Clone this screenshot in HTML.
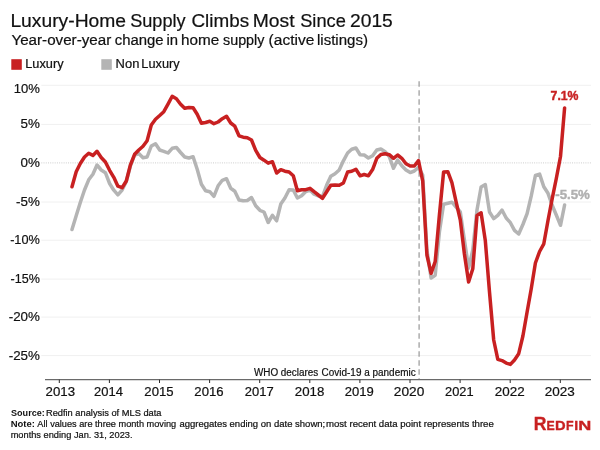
<!DOCTYPE html>
<html><head><meta charset="utf-8"><title>Luxury-Home Supply</title>
<style>
html,body{margin:0;padding:0;background:#fff;}
body{width:600px;height:450px;overflow:hidden;font-family:"Liberation Sans",sans-serif;}
svg{display:block;}
text{font-family:"Liberation Sans",sans-serif;}
</style></head><body>
<svg style="will-change:transform" width="600" height="450" viewBox="0 0 600 450">
<rect width="600" height="450" fill="#ffffff"/>
<text x="10.41" y="27" font-size="18" stroke="#111" stroke-width="0.2" fill="#111" textLength="115.65" lengthAdjust="spacingAndGlyphs">Luxury-Home</text>
<text x="130.18" y="27" font-size="18" stroke="#111" stroke-width="0.2" fill="#111" textLength="55.47" lengthAdjust="spacingAndGlyphs">Supply</text>
<text x="191.46" y="27" font-size="18" stroke="#111" stroke-width="0.2" fill="#111" textLength="57.62" lengthAdjust="spacingAndGlyphs">Climbs</text>
<text x="252.81" y="27" font-size="18" stroke="#111" stroke-width="0.2" fill="#111" textLength="41.83" lengthAdjust="spacingAndGlyphs">Most</text>
<text x="300.18" y="27" font-size="18" stroke="#111" stroke-width="0.2" fill="#111" textLength="45.62" lengthAdjust="spacingAndGlyphs">Since</text>
<text x="350.04" y="27" font-size="18" stroke="#111" stroke-width="0.2" fill="#111" textLength="42.77" lengthAdjust="spacingAndGlyphs">2015</text>
<text x="11.46" y="45" font-size="14" stroke="#111" stroke-width="0.2" fill="#111" textLength="99.77" lengthAdjust="spacingAndGlyphs">Year-over-year</text>
<text x="114.77" y="45" font-size="14" stroke="#111" stroke-width="0.2" fill="#111" textLength="48.88" lengthAdjust="spacingAndGlyphs">change</text>
<text x="166.40" y="45" font-size="14" stroke="#111" stroke-width="0.2" fill="#111" textLength="11.58" lengthAdjust="spacingAndGlyphs">in</text>
<text x="180.93" y="45" font-size="14" stroke="#111" stroke-width="0.2" fill="#111" textLength="38.24" lengthAdjust="spacingAndGlyphs">home</text>
<text x="223.01" y="45" font-size="14" stroke="#111" stroke-width="0.2" fill="#111" textLength="41.44" lengthAdjust="spacingAndGlyphs">supply</text>
<text x="268.63" y="45" font-size="14" stroke="#111" stroke-width="0.2" fill="#111" textLength="45.63" lengthAdjust="spacingAndGlyphs">(active</text>
<text x="316.99" y="45" font-size="14" stroke="#111" stroke-width="0.2" fill="#111" textLength="50.95" lengthAdjust="spacingAndGlyphs">listings)</text>
<rect x="11.3" y="59.2" width="10.5" height="10.6" fill="#c82021"/>
<text x="25.25" y="67.9" font-size="12" stroke="#111" stroke-width="0.2" fill="#111" textLength="38.27" lengthAdjust="spacingAndGlyphs">Luxury</text>
<rect x="101.3" y="59.2" width="10.5" height="10.6" fill="#b4b4b4"/>
<text x="115.63" y="67.9" font-size="12" stroke="#111" stroke-width="0.2" fill="#111" textLength="23.73" lengthAdjust="spacingAndGlyphs">Non</text>
<text x="141.35" y="67.9" font-size="12" stroke="#111" stroke-width="0.2" fill="#111" textLength="38.27" lengthAdjust="spacingAndGlyphs">Luxury</text>
<line x1="41.3" x2="591" y1="85.30" y2="85.30" stroke="#f0f0f0" stroke-width="1"/>
<line x1="41.3" x2="591" y1="124.40" y2="124.40" stroke="#f0f0f0" stroke-width="1"/>
<line x1="41.3" x2="591" y1="202.00" y2="202.00" stroke="#f0f0f0" stroke-width="1"/>
<line x1="41.3" x2="591" y1="240.20" y2="240.20" stroke="#f0f0f0" stroke-width="1"/>
<line x1="41.3" x2="591" y1="279.10" y2="279.10" stroke="#f0f0f0" stroke-width="1"/>
<line x1="41.3" x2="591" y1="317.10" y2="317.10" stroke="#f0f0f0" stroke-width="1"/>
<line x1="41.3" x2="591" y1="355.60" y2="355.60" stroke="#f0f0f0" stroke-width="1"/>
<line x1="41.3" x2="591" y1="162.90" y2="162.90" stroke="#cdcdcd" stroke-width="1" stroke-dasharray="1 1.23"/>
<text x="13.72" y="92.6" font-size="13" stroke="#111" stroke-width="0.2" fill="#111" textLength="26.16" lengthAdjust="spacingAndGlyphs">10%</text>
<text x="20.56" y="128.4" font-size="13" stroke="#111" stroke-width="0.2" fill="#111" textLength="19.34" lengthAdjust="spacingAndGlyphs">5%</text>
<text x="20.56" y="166.9" font-size="13" stroke="#111" stroke-width="0.2" fill="#111" textLength="19.34" lengthAdjust="spacingAndGlyphs">0%</text>
<text x="16.10" y="206.0" font-size="13" stroke="#111" stroke-width="0.2" fill="#111" textLength="23.78" lengthAdjust="spacingAndGlyphs">-5%</text>
<text x="10.13" y="244.2" font-size="13" stroke="#111" stroke-width="0.2" fill="#111" textLength="29.75" lengthAdjust="spacingAndGlyphs">-10%</text>
<text x="10.53" y="283.1" font-size="13" stroke="#111" stroke-width="0.2" fill="#111" textLength="29.33" lengthAdjust="spacingAndGlyphs">-15%</text>
<text x="8.70" y="321.1" font-size="13" stroke="#111" stroke-width="0.2" fill="#111" textLength="31.20" lengthAdjust="spacingAndGlyphs">-20%</text>
<text x="8.70" y="359.6" font-size="13" stroke="#111" stroke-width="0.2" fill="#111" textLength="31.20" lengthAdjust="spacingAndGlyphs">-25%</text>
<line x1="419.1" x2="419.1" y1="81.3" y2="379" stroke="#9c9c9c" stroke-width="1.25" stroke-dasharray="5.5 3.5"/>
<text x="253.95" y="375.8" font-size="10" stroke="#111" stroke-width="0.2" fill="#111" textLength="64.29" lengthAdjust="spacingAndGlyphs">WHO declares</text>
<text x="321.60" y="375.8" font-size="10" stroke="#111" stroke-width="0.2" fill="#111" textLength="94.07" lengthAdjust="spacingAndGlyphs">Covid-19 a pandemic</text>
<path d="M72.0,229.5 L76.2,215.8 L80.3,202.5 L84.5,190.0 L88.7,179.8 L92.9,174.2 L97.0,165.0 L101.2,170.0 L105.4,172.7 L109.6,183.5 L113.8,190.2 L117.9,194.8 L122.1,190.0 L126.3,181.5 L130.4,166.0 L134.6,155.0 L138.8,153.5 L143.0,157.7 L147.1,157.0 L151.3,146.0 L155.5,143.7 L159.7,150.0 L163.8,151.3 L168.0,153.0 L172.2,148.3 L176.4,147.5 L180.6,152.5 L184.7,157.0 L188.9,158.0 L193.1,156.7 L197.2,169.2 L201.4,184.2 L205.6,190.8 L209.8,191.7 L213.9,196.3 L218.1,185.8 L222.3,180.3 L226.5,178.7 L230.7,188.3 L234.8,191.2 L239.0,200.0 L243.2,200.8 L247.3,200.5 L251.5,197.5 L255.7,205.8 L259.9,210.3 L264.0,212.0 L268.2,222.5 L272.4,215.3 L276.6,220.8 L280.8,204.0 L284.9,198.0 L289.1,189.8 L293.3,190.0 L297.4,198.0 L301.6,195.8 L305.8,191.5 L310.0,190.0 L314.1,194.2 L318.3,196.0 L322.5,196.5 L326.7,185.0 L330.8,176.3 L335.0,173.8 L339.2,170.0 L343.4,160.8 L347.6,153.0 L351.7,149.2 L355.9,148.0 L360.1,154.7 L364.2,155.0 L368.4,158.0 L372.6,155.8 L376.8,150.0 L380.9,149.0 L385.1,151.7 L389.3,156.7 L393.5,168.3 L397.6,160.0 L401.8,165.8 L406.0,170.0 L410.2,172.6 L414.3,171.0 L418.5,167.4 L422.7,175.2 L426.9,250.0 L431.1,278.0 L435.2,275.2 L439.4,232.0 L443.6,204.2 L447.8,203.2 L451.9,202.2 L456.1,207.0 L460.3,212.0 L464.4,240.0 L468.6,268.0 L472.8,250.0 L477.0,210.0 L481.1,187.0 L485.3,184.6 L489.5,212.0 L493.7,218.6 L497.8,215.3 L502.0,210.0 L506.2,218.0 L510.4,222.7 L514.5,230.4 L518.7,234.0 L522.9,224.5 L527.1,213.6 L531.2,196.2 L535.4,175.5 L539.6,174.1 L543.8,186.7 L548.0,193.3 L552.1,205.0 L556.3,215.0 L560.5,225.3 L564.6,205.0" fill="none" stroke="#b4b4b4" stroke-width="3.5" stroke-linejoin="round" stroke-linecap="round"/>
<path d="M72.0,186.7 L76.2,171.7 L80.3,163.5 L84.5,157.0 L88.7,153.3 L92.9,155.4 L97.0,151.3 L101.2,157.5 L105.4,162.0 L109.6,170.3 L113.8,177.3 L117.9,186.2 L122.1,187.7 L126.3,181.0 L130.4,165.0 L134.6,154.3 L138.8,150.0 L143.0,146.3 L147.1,140.7 L151.3,125.0 L155.5,119.2 L159.7,115.5 L163.8,111.7 L168.0,104.2 L172.2,96.3 L176.4,98.7 L180.6,104.2 L184.7,108.3 L188.9,107.5 L193.1,107.8 L197.2,114.2 L201.4,123.3 L205.6,122.5 L209.8,121.3 L213.9,123.7 L218.1,122.0 L222.3,118.7 L226.5,116.3 L230.7,123.0 L234.8,126.2 L239.0,135.8 L243.2,137.2 L247.3,137.8 L251.5,140.0 L255.7,150.4 L259.9,157.5 L264.0,160.2 L268.2,163.2 L272.4,161.7 L276.6,173.0 L280.8,169.7 L284.9,171.2 L289.1,172.0 L293.3,175.8 L297.4,190.8 L301.6,189.7 L305.8,189.7 L310.0,188.3 L314.1,191.7 L318.3,195.0 L322.5,198.3 L326.7,191.7 L330.8,185.3 L335.0,185.0 L339.2,185.3 L343.4,183.0 L347.6,172.0 L351.7,171.3 L355.9,169.2 L360.1,175.8 L364.2,174.5 L368.4,175.8 L372.6,169.6 L376.8,158.3 L380.9,154.5 L385.1,153.7 L389.3,154.7 L393.5,158.3 L397.6,155.0 L401.8,158.3 L406.0,163.8 L410.2,166.0 L414.3,166.0 L418.5,160.6 L422.7,181.0 L426.9,255.0 L431.1,273.4 L435.2,261.5 L439.4,215.0 L443.6,172.0 L447.8,171.7 L451.9,182.7 L456.1,201.8 L460.3,220.0 L464.4,254.0 L468.6,282.0 L472.8,268.8 L477.0,215.4 L481.1,212.8 L485.3,240.5 L489.5,292.0 L493.7,340.0 L497.8,359.4 L502.0,360.6 L506.2,363.1 L510.4,364.4 L514.5,360.0 L518.7,353.7 L522.9,336.0 L527.1,312.0 L531.2,289.0 L535.4,263.0 L539.6,251.5 L543.8,243.8 L548.0,220.5 L552.1,199.2 L556.3,178.5 L560.5,156.5 L564.6,107.9" fill="none" stroke="#c82021" stroke-width="3.5" stroke-linejoin="round" stroke-linecap="round"/>
<line x1="45" x2="591" y1="379.7" y2="379.7" stroke="#6a6a6a" stroke-width="1.3"/>
<line x1="59.30" x2="59.30" y1="379.7" y2="383" stroke="#2a2a2a" stroke-width="1"/>
<text x="45.64" y="395.7" font-size="12.5" stroke="#111" stroke-width="0.2" fill="#111" textLength="29.45" lengthAdjust="spacingAndGlyphs">2013</text>
<line x1="109.40" x2="109.40" y1="379.7" y2="383" stroke="#2a2a2a" stroke-width="1"/>
<text x="94.05" y="395.7" font-size="12.5" stroke="#111" stroke-width="0.2" fill="#111" textLength="28.83" lengthAdjust="spacingAndGlyphs">2014</text>
<line x1="159.50" x2="159.50" y1="379.7" y2="383" stroke="#2a2a2a" stroke-width="1"/>
<text x="144.34" y="395.7" font-size="12.5" stroke="#111" stroke-width="0.2" fill="#111" textLength="29.21" lengthAdjust="spacingAndGlyphs">2015</text>
<line x1="209.60" x2="209.60" y1="379.7" y2="383" stroke="#2a2a2a" stroke-width="1"/>
<text x="194.34" y="395.7" font-size="12.5" stroke="#111" stroke-width="0.2" fill="#111" textLength="29.24" lengthAdjust="spacingAndGlyphs">2016</text>
<line x1="259.70" x2="259.70" y1="379.7" y2="383" stroke="#2a2a2a" stroke-width="1"/>
<text x="244.85" y="395.7" font-size="12.5" stroke="#111" stroke-width="0.2" fill="#111" textLength="28.82" lengthAdjust="spacingAndGlyphs">2017</text>
<line x1="309.80" x2="309.80" y1="379.7" y2="383" stroke="#2a2a2a" stroke-width="1"/>
<text x="294.84" y="395.7" font-size="12.5" stroke="#111" stroke-width="0.2" fill="#111" textLength="29.51" lengthAdjust="spacingAndGlyphs">2018</text>
<line x1="359.90" x2="359.90" y1="379.7" y2="383" stroke="#2a2a2a" stroke-width="1"/>
<text x="344.85" y="395.7" font-size="12.5" stroke="#111" stroke-width="0.2" fill="#111" textLength="29.02" lengthAdjust="spacingAndGlyphs">2019</text>
<line x1="410.00" x2="410.00" y1="379.7" y2="383" stroke="#2a2a2a" stroke-width="1"/>
<text x="393.81" y="395.7" font-size="12.5" stroke="#111" stroke-width="0.2" fill="#111" textLength="30.48" lengthAdjust="spacingAndGlyphs">2020</text>
<line x1="460.10" x2="460.10" y1="379.7" y2="383" stroke="#2a2a2a" stroke-width="1"/>
<text x="445.11" y="395.7" font-size="12.5" stroke="#111" stroke-width="0.2" fill="#111" textLength="28.53" lengthAdjust="spacingAndGlyphs">2021</text>
<line x1="510.20" x2="510.20" y1="379.7" y2="383" stroke="#2a2a2a" stroke-width="1"/>
<text x="494.83" y="395.7" font-size="12.5" stroke="#111" stroke-width="0.2" fill="#111" textLength="29.87" lengthAdjust="spacingAndGlyphs">2022</text>
<line x1="560.30" x2="560.30" y1="379.7" y2="383" stroke="#2a2a2a" stroke-width="1"/>
<text x="544.83" y="395.7" font-size="12.5" stroke="#111" stroke-width="0.2" fill="#111" textLength="30.03" lengthAdjust="spacingAndGlyphs">2023</text>
<text stroke="#c82021" stroke-width="0.4" x="550.58" y="99.9" font-size="12.5" font-weight="bold" fill="#c82021" textLength="27.95" lengthAdjust="spacingAndGlyphs">7.1%</text>
<text stroke="#b0b0b0" stroke-width="0.4" x="555.27" y="198.7" font-size="12.5" font-weight="bold" fill="#b0b0b0" textLength="34.59" lengthAdjust="spacingAndGlyphs">-5.5%</text>
<text x="11.03" y="415.8" font-size="9" font-weight="bold" fill="#111" textLength="33.74" lengthAdjust="spacingAndGlyphs">Source:</text>
<text x="45.93" y="415.8" font-size="9" stroke="#111" stroke-width="0.2" fill="#111" textLength="115.58" lengthAdjust="spacingAndGlyphs">Redfin analysis of MLS data</text>
<text x="10.66" y="426.7" font-size="9" font-weight="bold" fill="#111" textLength="24.24" lengthAdjust="spacingAndGlyphs">Note:</text>
<text x="37.38" y="426.7" font-size="9" stroke="#111" stroke-width="0.2" fill="#111" textLength="138.81" lengthAdjust="spacingAndGlyphs">All values are three month moving</text>
<text x="179.40" y="426.7" font-size="9" stroke="#111" stroke-width="0.2" fill="#111" textLength="145.77" lengthAdjust="spacingAndGlyphs">aggregates ending on date shown;</text>
<text x="325.95" y="426.7" font-size="9" stroke="#111" stroke-width="0.2" fill="#111" textLength="167.88" lengthAdjust="spacingAndGlyphs">most recent data point represents three</text>
<text x="10.68" y="437.5" font-size="9" stroke="#111" stroke-width="0.2" fill="#111" textLength="121.85" lengthAdjust="spacingAndGlyphs">months ending Jan. 31, 2023.</text>
<text stroke="#c82021" stroke-width="0.35" x="533.82" y="430.2" font-size="17.8" font-weight="bold" fill="#c82021" textLength="12.67" lengthAdjust="spacingAndGlyphs">R</text>
<text stroke="#c82021" stroke-width="0.35" x="546.57" y="430.2" font-size="13.7" font-weight="bold" fill="#c82021" textLength="8.22" lengthAdjust="spacingAndGlyphs">E</text>
<text stroke="#c82021" stroke-width="0.35" x="555.11" y="430.2" font-size="13.7" font-weight="bold" fill="#c82021" textLength="10.61" lengthAdjust="spacingAndGlyphs">D</text>
<text stroke="#c82021" stroke-width="0.35" x="566.06" y="430.2" font-size="13.7" font-weight="bold" fill="#c82021" textLength="7.58" lengthAdjust="spacingAndGlyphs">F</text>
<text stroke="#c82021" stroke-width="0.35" x="574.15" y="430.2" font-size="13.7" font-weight="bold" fill="#c82021" textLength="3.90" lengthAdjust="spacingAndGlyphs">I</text>
<text stroke="#c82021" stroke-width="0.35" x="578.18" y="430.2" font-size="13.7" font-weight="bold" fill="#c82021" textLength="13.03" lengthAdjust="spacingAndGlyphs">N</text>
</svg>
</body></html>
